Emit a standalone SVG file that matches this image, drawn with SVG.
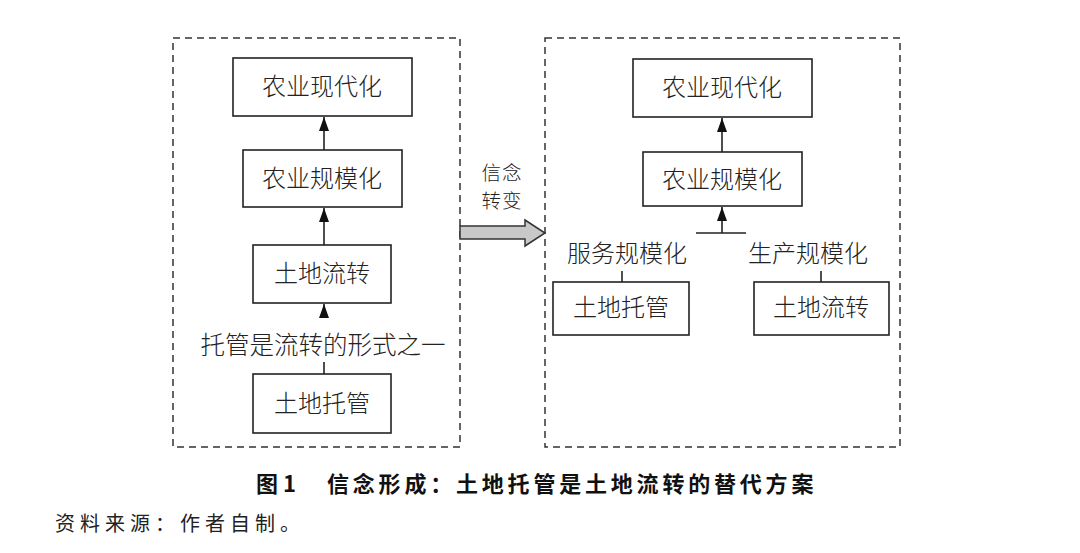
<svg xmlns="http://www.w3.org/2000/svg" width="1080" height="553" viewBox="0 0 1080 553">
<defs>
<style>
.frame{fill:none;stroke:#333;stroke-width:1.5;stroke-dasharray:7,5}
.box{fill:#fff;stroke:#222;stroke-width:1.6}
.t{font-family:"Noto Sans CJK SC",sans-serif;font-weight:300;font-size:24px;fill:#222;text-anchor:middle}
.ln{stroke:#222;stroke-width:1.6;fill:none}
.cap{font-family:"Noto Sans CJK SC",sans-serif;font-weight:700;font-size:22px;fill:#111}
.src{font-family:"Noto Sans CJK SC",sans-serif;font-size:20px;fill:#222;letter-spacing:5px}
</style>
<marker id="ah" markerWidth="14" markerHeight="10" refX="14" refY="5" orient="auto" markerUnits="userSpaceOnUse" viewBox="0 0 14 10">
<path d="M0,0 L14,5 L0,10 Z" fill="#111"/>
</marker>
</defs>
<rect width="1080" height="553" fill="#fff"/>
<rect class="frame" x="173" y="38" width="287" height="409"/>
<rect class="frame" x="545" y="38" width="355" height="409"/>
<g id="connectors">
<line class="ln" x1="324" y1="150" x2="324" y2="117" marker-end="url(#ah)"/>
<line class="ln" x1="324" y1="245" x2="324" y2="208" marker-end="url(#ah)"/>
<line class="ln" x1="324" y1="318" x2="324" y2="304" marker-end="url(#ah)"/>
<line class="ln" x1="324" y1="374" x2="324" y2="362"/>
<line class="ln" x1="722" y1="152" x2="722" y2="118" marker-end="url(#ah)"/>
<line class="ln" x1="722" y1="233" x2="722" y2="207" marker-end="url(#ah)"/>
<line class="ln" x1="696" y1="233" x2="746" y2="233"/>
<line class="ln" x1="622" y1="271" x2="622" y2="282"/>
<line class="ln" x1="821" y1="271" x2="821" y2="282"/>
<path d="M460,226 L525,226 L525,220 L545,233 L525,246 L525,239 L460,239 Z" fill="#c8c8c8" stroke="#333" stroke-width="1.5"/>
</g>
<g id="arrow-label"><text class="t" x="502" y="180" style="font-size:19.5px;letter-spacing:1px">信念</text><text class="t" x="502" y="208" style="font-size:19.5px;letter-spacing:1px">转变</text></g>
<g id="L1"><rect class="box" x="233" y="58" width="179" height="58"/><text class="t" x="322" y="95">农业现代化</text></g>
<g id="L2"><rect class="box" x="243" y="150" width="159" height="57"/><text class="t" x="322" y="187">农业规模化</text></g>
<g id="L3"><rect class="box" x="253" y="245" width="138" height="58"/><text class="t" x="322" y="282">土地流转</text></g>
<g id="Llabel"><text class="t" x="323" y="354" style="font-size:24.5px">托管是流转的形式之一</text></g>
<g id="L4"><rect class="box" x="253" y="374" width="138" height="59"/><text class="t" x="322" y="412">土地托管</text></g>
<g id="R1"><rect class="box" x="633" y="59" width="179" height="58"/><text class="t" x="722" y="96">农业现代化</text></g>
<g id="R2"><rect class="box" x="643" y="152" width="159" height="54"/><text class="t" x="722" y="188">农业规模化</text></g>
<g id="Rlab1"><text class="t" x="627" y="262">服务规模化</text></g>
<g id="Rlab2"><text class="t" x="808" y="262">生产规模化</text></g>
<g id="R3"><rect class="box" x="553" y="282" width="136" height="53"/><text class="t" x="621" y="316">土地托管</text></g>
<g id="R4"><rect class="box" x="754" y="282" width="135" height="53"/><text class="t" x="821" y="316">土地流转</text></g>
<g id="caption"><text class="cap" x="256" y="492">图 1</text><text class="cap" x="327" y="492" style="letter-spacing:3.8px">信念形成：土地托管是土地流转的替代方案</text></g>
<g id="source"><text class="src" x="55" y="531">资料来源：作者自制。</text></g>
</svg>
